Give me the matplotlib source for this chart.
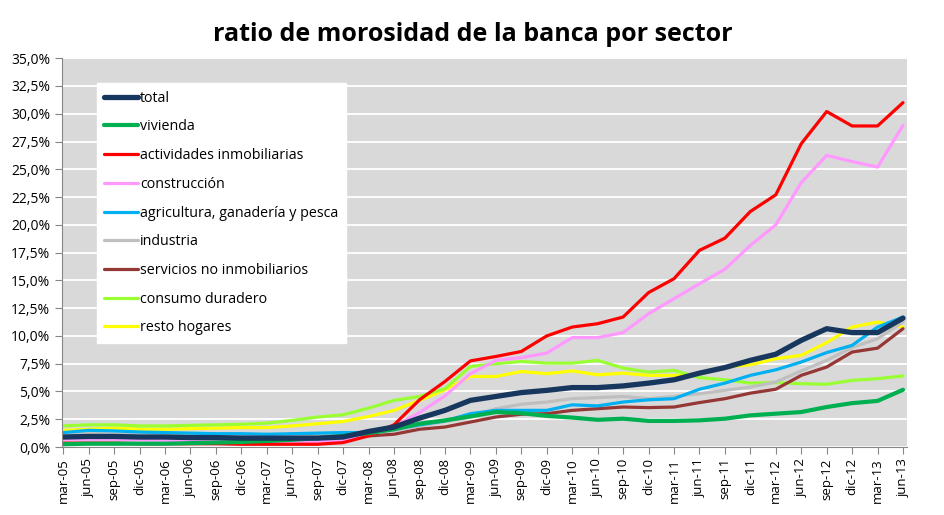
import matplotlib
matplotlib.use("Agg")
from matplotlib import pyplot as plt
from matplotlib.ticker import FuncFormatter, MultipleLocator

# Quarterly categories
quarters = [
    "mar-05", "jun-05", "sep-05", "dic-05", "mar-06", "jun-06", "sep-06", "dic-06",
    "mar-07", "jun-07", "sep-07", "dic-07", "mar-08", "jun-08", "sep-08", "dic-08",
    "mar-09", "jun-09", "sep-09", "dic-09", "mar-10", "jun-10", "sep-10", "dic-10",
    "mar-11", "jun-11", "sep-11", "dic-11", "mar-12", "jun-12", "sep-12", "dic-12",
    "mar-13", "jun-13",
]

# Series values (%)
total = [0.9, 0.95, 0.95, 0.9, 0.9, 0.85, 0.85, 0.8, 0.8, 0.8, 0.8, 0.9,
         1.4, 1.8, 2.6, 3.3, 4.2, 4.55, 4.9, 5.1, 5.35, 5.35, 5.5, 5.75,
         6.05, 6.65, 7.15, 7.8, 8.35, 9.6, 10.65, 10.3, 10.3, 11.6]
vivienda = [0.25, 0.3, 0.3, 0.3, 0.3, 0.35, 0.4, 0.45, 0.55, 0.65, 0.8, 1.0,
            1.25, 1.6, 2.1, 2.4, 2.75, 3.15, 3.05, 2.8, 2.65, 2.45, 2.55, 2.35,
            2.35, 2.4, 2.55, 2.85, 3.0, 3.15, 3.6, 3.95, 4.15, 5.15]
inmobiliarias = [0.35, 0.35, 0.35, 0.3, 0.3, 0.3, 0.3, 0.25, 0.25, 0.25, 0.25, 0.4,
                 1.0, 2.0, 4.25, 5.9, 7.75, 8.15, 8.6, 10.0, 10.8, 11.1, 11.7, 13.9,
                 15.15, 17.7, 18.8, 21.2, 22.7, 27.3, 30.2, 28.9, 28.9, 31.0]
construccion = [0.7, 0.7, 0.7, 0.65, 0.6, 0.6, 0.55, 0.5, 0.5, 0.5, 0.5, 0.6,
                1.1, 1.85, 3.1, 4.6, 6.6, 7.8, 8.05, 8.45, 9.85, 9.85, 10.3, 12.0,
                13.35, 14.7, 16.0, 18.15, 20.0, 23.8, 26.25, 25.7, 25.2, 28.95]
agricultura = [1.3, 1.5, 1.45, 1.35, 1.3, 1.25, 1.2, 1.2, 1.15, 1.2, 1.25, 1.3,
               1.3, 1.6, 2.0, 2.35, 3.0, 3.3, 3.3, 3.3, 3.8, 3.7, 4.05, 4.25,
               4.35, 5.2, 5.75, 6.45, 6.95, 7.65, 8.5, 9.15, 10.8, 11.7]
industria = [1.2, 1.2, 1.15, 1.1, 1.1, 1.05, 1.05, 1.0, 1.0, 1.0, 1.05, 1.1,
             1.25, 1.5, 1.9, 2.3, 2.7, 3.45, 3.85, 4.05, 4.35, 4.45, 4.55, 4.35,
             4.55, 4.8, 5.1, 5.4, 5.85, 6.85, 7.8, 8.95, 9.75, 11.25]
servicios = [1.0, 1.05, 1.05, 1.0, 0.95, 0.9, 0.85, 0.85, 0.85, 0.8, 0.8, 0.8,
             1.0, 1.15, 1.6, 1.8, 2.25, 2.7, 2.95, 3.0, 3.3, 3.45, 3.6, 3.55,
             3.6, 4.0, 4.35, 4.85, 5.2, 6.45, 7.2, 8.55, 8.9, 10.65]
consumo = [1.9, 2.0, 2.0, 1.9, 1.9, 1.95, 2.0, 2.05, 2.15, 2.4, 2.7, 2.9,
           3.5, 4.2, 4.55, 5.25, 7.25, 7.5, 7.7, 7.55, 7.55, 7.8, 7.1, 6.75,
           6.9, 6.25, 6.05, 5.75, 5.8, 5.7, 5.65, 6.0, 6.15, 6.4]
resto = [1.5, 1.6, 1.7, 1.6, 1.6, 1.65, 1.7, 1.75, 1.75, 1.9, 2.1, 2.3,
         2.75, 3.3, 4.2, 5.15, 6.35, 6.35, 6.8, 6.6, 6.85, 6.5, 6.65, 6.45,
         6.45, 6.55, 7.2, 7.4, 7.95, 8.25, 9.4, 10.8, 11.25, 10.8]

series = [
    ("total", total, "#17375E", 3.8),
    ("vivienda", vivienda, "#00B050", 3.0),
    ("actividades inmobiliarias", inmobiliarias, "#FF0000", 2.3),
    ("construcción", construccion, "#FF99FF", 2.3),
    ("agricultura, ganadería y pesca", agricultura, "#00B0F0", 2.3),
    ("industria", industria, "#BFBFBF", 2.3),
    ("servicios no inmobiliarios", servicios, "#953735", 2.3),
    ("consumo duradero", consumo, "#99FF33", 2.3),
    ("resto hogares", resto, "#FFFF00", 2.3),
]

plt.rcParams["font.family"] = ["Open Sans", "DejaVu Sans"]

fig = plt.figure(figsize=(9.45, 5.15), dpi=100)
ax = fig.add_axes([0.0656, 0.132, 0.894, 0.755])
ax.set_facecolor("#D9D9D9")

x = list(range(len(quarters)))
# draw in reverse so "total" ends on top
for name, values, color, lw in reversed(series):
    ax.plot(x, values, color=color, linewidth=lw, label=name, solid_capstyle="round")

ax.set_xlim(-0.05, len(quarters) - 0.85)
ax.set_ylim(0, 35)
ax.yaxis.set_major_locator(MultipleLocator(2.5))
ax.yaxis.set_major_formatter(FuncFormatter(lambda v, p: f"{v:.1f}%".replace(".", ",")))
ax.grid(axis="y", color="white", linewidth=1.3)
ax.set_axisbelow(True)

ax.set_xticks(x)
ax.set_xticklabels(quarters, rotation=90, fontsize=9.5)
ax.tick_params(axis="y", labelsize=10, length=5, color="#868686")
ax.tick_params(axis="x", length=5, color="#868686", pad=3)

for side in ["top", "right"]:
    ax.spines[side].set_visible(False)
for side in ["left", "bottom"]:
    ax.spines[side].set_color("#868686")

# legend in original order
handles, labels = ax.get_legend_handles_labels()
handles, labels = handles[::-1], labels[::-1]
leg = ax.legend(handles, labels, loc="upper left", bbox_to_anchor=(0.041, 0.935),
                borderaxespad=0, fontsize=10.3, frameon=True, fancybox=False,
                framealpha=1, edgecolor="white", handlelength=2.4,
                handletextpad=0.15, labelspacing=0.96, borderpad=0.5)

fig.suptitle("ratio de morosidad de la banca por sector", fontsize=18,
             fontweight="bold", y=0.958)

fig.savefig("out.png", dpi=100)
